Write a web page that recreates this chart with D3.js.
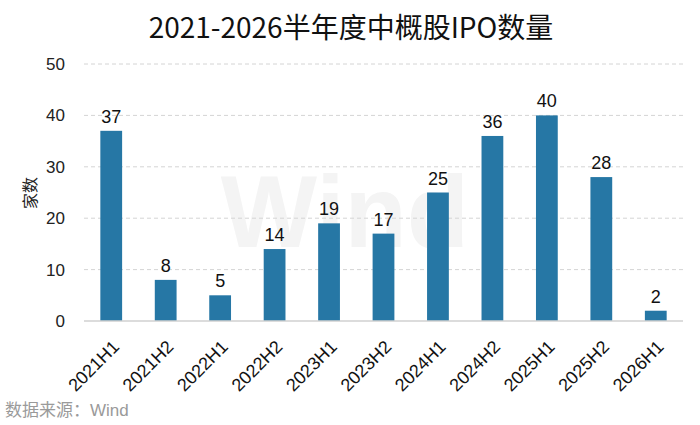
<!DOCTYPE html>
<html>
<head>
<meta charset="utf-8">
<script src="https://cdn.jsdelivr.net/npm/d3@7"></script>
<style>
  body { margin: 0; background: #fff; }
  svg { display: block; }
</style>
</head>
<body>
<div id="chart"></div>
<script>
// data
var periods = ["2021H1", "2021H2", "2022H1", "2022H2", "2023H1", "2023H2",
               "2024H1", "2024H2", "2025H1", "2025H2", "2026H1"];
var counts = [37, 8, 5, 14, 19, 17, 25, 36, 40, 28, 2];
var yTicks = [0, 10, 20, 30, 40, 50];

var svgWidth = 700;
var svgHeight = 425;

var margin = { top: 64, bottom: 104, right: 17, left: 84 };

var height = svgHeight - margin.top - margin.bottom;
var width = svgWidth - margin.left - margin.right;

var latin = "Liberation Sans, Arial, Noto Sans CJK SC, sans-serif";

var svg = d3.select("#chart")
    .append("svg")
    .attr("width", svgWidth)
    .attr("height", svgHeight);

// faint watermark
svg.append("text")
    .attr("x", 345)
    .attr("y", 247)
    .attr("text-anchor", "middle")
    .attr("font-family", latin)
    .attr("font-weight", "bold")
    .attr("font-size", 102)
    .attr("fill", "#f4f4f4")
    .text("Wind");

// title
svg.append("text")
    .attr("x", 351)
    .attr("y", 38)
    .attr("text-anchor", "middle")
    .attr("font-family", "Noto Sans CJK SC, sans-serif")
    .attr("font-size", 28)
    .attr("fill", "#111")
    .text("2021-2026半年度中概股IPO数量");

var chartGroup = svg.append("g")
    .attr("transform", `translate(${margin.left}, ${margin.top})`);

var xScale = d3.scaleBand()
    .domain(periods)
    .range([0, width])
    .paddingInner(0.6)
    .paddingOuter(0.3);

var yScale = d3.scaleLinear()
    .domain([0, 50])
    .range([height, 0]);

// gridlines
chartGroup.append("g")
    .selectAll("line")
    .data(yTicks.filter(d => d > 0))
    .enter()
    .append("line")
    .attr("x1", 0)
    .attr("x2", width)
    .attr("y1", d => yScale(d))
    .attr("y2", d => yScale(d))
    .attr("stroke", "#d4d4d4")
    .attr("stroke-dasharray", "4,3");

// y axis (labels only)
var yAxis = d3.axisLeft(yScale).tickValues(yTicks).tickSize(0).tickPadding(19);
var yG = chartGroup.append("g").call(yAxis);
yG.select(".domain").remove();
yG.attr("font-family", latin).attr("font-size", 17);
yG.selectAll("text").attr("fill", "#222");

// bars
chartGroup.selectAll("rect")
    .data(counts)
    .enter()
    .append("rect")
    .attr("x", (d, i) => xScale(periods[i]))
    .attr("y", d => yScale(d))
    .attr("width", xScale.bandwidth())
    .attr("height", d => height - yScale(d))
    .attr("fill", "#2677a5");

// value labels
chartGroup.selectAll(".val")
    .data(counts)
    .enter()
    .append("text")
    .attr("class", "val")
    .attr("x", (d, i) => xScale(periods[i]) + xScale.bandwidth() / 2)
    .attr("y", d => yScale(d) - 8)
    .attr("text-anchor", "middle")
    .attr("font-family", latin)
    .attr("font-size", 18)
    .attr("fill", "#111")
    .text(d => d);

// baseline
chartGroup.append("line")
    .attr("x1", 0)
    .attr("x2", width)
    .attr("y1", height)
    .attr("y2", height)
    .attr("stroke", "#d0d0d0")
    .attr("stroke-width", 1.5);

// x labels, rotated
var xAxis = d3.axisBottom(xScale).tickSize(0).tickPadding(0);
var xG = chartGroup.append("g")
    .attr("transform", `translate(0, ${height})`)
    .call(xAxis);
xG.select(".domain").remove();
xG.attr("font-family", latin).attr("font-size", 18);
xG.selectAll("text")
    .attr("fill", "#111")
    .attr("text-anchor", "end")
    .attr("dy", 0)
    .attr("transform", "translate(9, 27) rotate(-45)");

// y axis title
svg.append("text")
    .attr("transform", "translate(36, 193) rotate(-90)")
    .attr("text-anchor", "middle")
    .attr("font-family", "Noto Sans CJK SC, sans-serif")
    .attr("font-size", 16)
    .attr("fill", "#222")
    .text("家数");

// source
svg.append("text")
    .attr("x", 5)
    .attr("y", 416)
    .attr("font-family", latin)
    .attr("font-size", 17)
    .attr("fill", "#9a9a9a")
    .text("数据来源：Wind");
</script>
</body>
</html>
